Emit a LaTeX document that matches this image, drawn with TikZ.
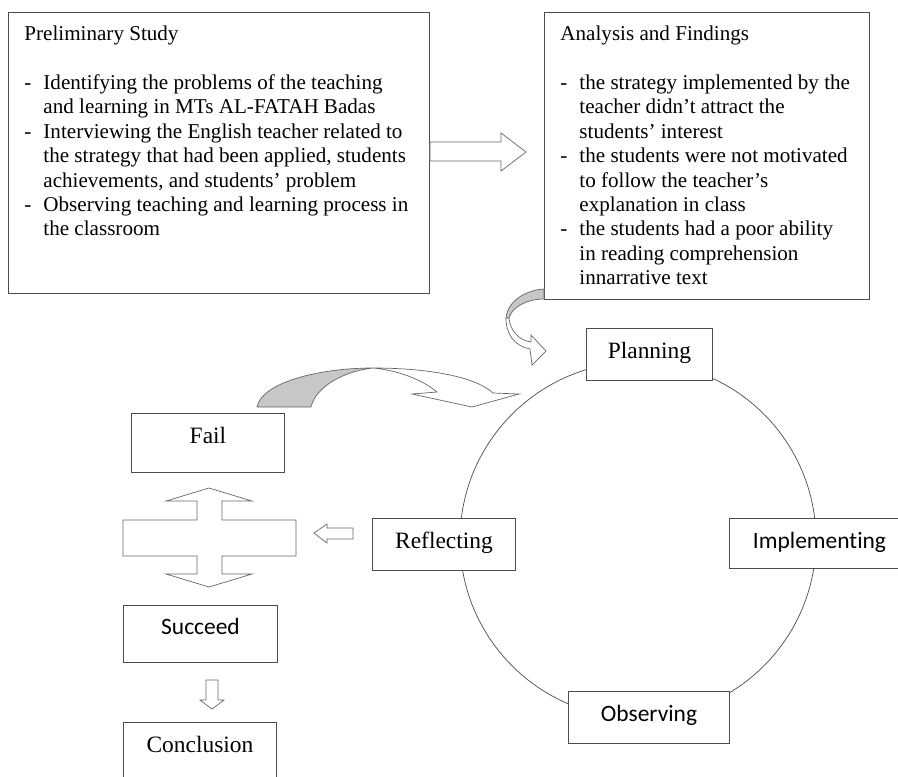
\documentclass[tikz,border=0pt]{standalone}
\usepackage{fontspec}
\setmainfont{Liberation Serif}
\newfontfamily\calibrifont[Ligatures=NoCommon]{Carlito}
\usetikzlibrary{positioning}

\newcommand{\dashitem}[1]{\par\hangindent=0.57cm\hangafter=1\noindent\makebox[0.57cm][l]{-}#1}

\begin{document}
\begin{tikzpicture}[x=0.03cm,y=-0.03cm,
  panel/.style={draw=black!70,line width=0.8pt,anchor=north west,inner xsep=0.48cm,inner ysep=0.39cm,font=\fontsize{18}{20.9}\selectfont},
  stage/.style={draw=black!70,line width=0.8pt,fill=white,anchor=north west,inner sep=0pt,text height=0.9cm,font=\fontsize{20}{24}\selectfont},
  sans/.style={font=\fontsize{20}{24}\calibrifont},
  blockarrow/.style={draw=black!60,line width=0.6pt,fill=white,line join=miter},
  foldback/.style={draw=black!60,line width=0.6pt,fill=black!22}]
  \clip (0,0) rectangle (898,776);

  % top row
  \node[panel] (prelim) at (8,12) {\parbox[t][7.65cm][t]{11.67cm}{%
    Preliminary Study\par\vspace{20.9pt}
    \dashitem{Identifying the problems of the teaching\newline and learning in MTs AL-FATAH Badas}
    \dashitem{Interviewing the English teacher related to\newline the strategy that had been applied, students\newline achievements, and students’ problem}
    \dashitem{Observing teaching and learning process in\newline the classroom}}};
  \node[panel] (analysis) at (544,12) {\parbox[t][7.83cm][t]{8.79cm}{%
    Analysis and Findings\par\vspace{20.9pt}
    \dashitem{the strategy implemented by the\newline teacher didn’t attract the\newline students’ interest}
    \dashitem{the students were not motivated\newline to follow the teacher’s\newline explanation in class}
    \dashitem{the students had a poor ability\newline in reading comprehension\newline innarrative text}}};
  \draw[blockarrow] (prelim.east |- 0,142) -- (501,142) -- (501,133) -- (526,152) -- (501,171) -- (501,161) -- (prelim.east |- 0,161) -- cycle;

  % cycle
  \coordinate (hub) at (638,540);
  \draw[draw=black!70,line width=0.6pt] (hub) circle[radius=178];
  \node[stage,minimum width=3.78cm,text depth=0.66cm] (planning) at (586,328) {Planning};
  \node[stage,sans,minimum width=5.4cm,text depth=0.6cm] (implementing) at (729,518) {Implementing};
  \node[stage,sans,minimum width=4.83cm,text depth=0.66cm] (observing) at (568,691) {Observing};
  \node[stage,minimum width=4.29cm,text depth=0.66cm] (reflecting) at (372,518) {Reflecting};

  % curled arrow into planning
  \draw[foldback] (544,289) .. controls (525,290) and (507,302) .. (506,318) -- (509,318) .. controls (512,307) and (527,299) .. (544,299) -- cycle;
  \draw[blockarrow] (506,318) .. controls (506,335) and (515,346) .. (530,349) -- (532,365) -- (546,351) -- (531,335) -- (531,342) .. controls (518,340) and (510,330) .. (509,318) -- cycle;

  % left column
  \node[stage,minimum width=4.59cm,text depth=0.87cm] (fail) at (131,413) {Fail};
  \node[stage,sans,minimum width=4.62cm,text height=0.87cm,text depth=0.84cm] (succeed) at (123,605) {Succeed};
  \node[stage,minimum width=4.59cm,text depth=1.5cm] (conclusion) at (123,722) {Conclusion};

  % curved arrow from fail back to the cycle
  \draw[foldback] (257,407) .. controls (262,382) and (320,368) .. (373,368) .. controls (345,371) and (316,386) .. (311,407) -- cycle;
  \draw[blockarrow] (373,368) .. controls (425,368) and (475,376) .. (493,393) -- (519,394) -- (472,407) -- (412,394) -- (437,392) .. controls (420,378) and (395,370) .. (373,368) -- cycle;

  % decision arrows
  \draw[blockarrow] (209,488) -- (252,501) -- (222,501) -- (222,520) -- (296,520) -- (296,556) -- (222,556) -- (222,574) -- (252,574) -- (209,587) -- (166,574) -- (197,574) -- (197,556) -- (123,556) -- (123,520) -- (197,520) -- (197,501) -- (166,501) -- cycle;
  \draw[blockarrow] (314,533) -- (327,524) -- (327,528) -- (353,528) -- (353,539) -- (327,539) -- (327,543) -- cycle;
  \draw[blockarrow] (206,680) -- (218,680) -- (218,700) -- (224,700) -- (212,709) -- (200,700) -- (206,700) -- cycle;
\end{tikzpicture}
\end{document}
